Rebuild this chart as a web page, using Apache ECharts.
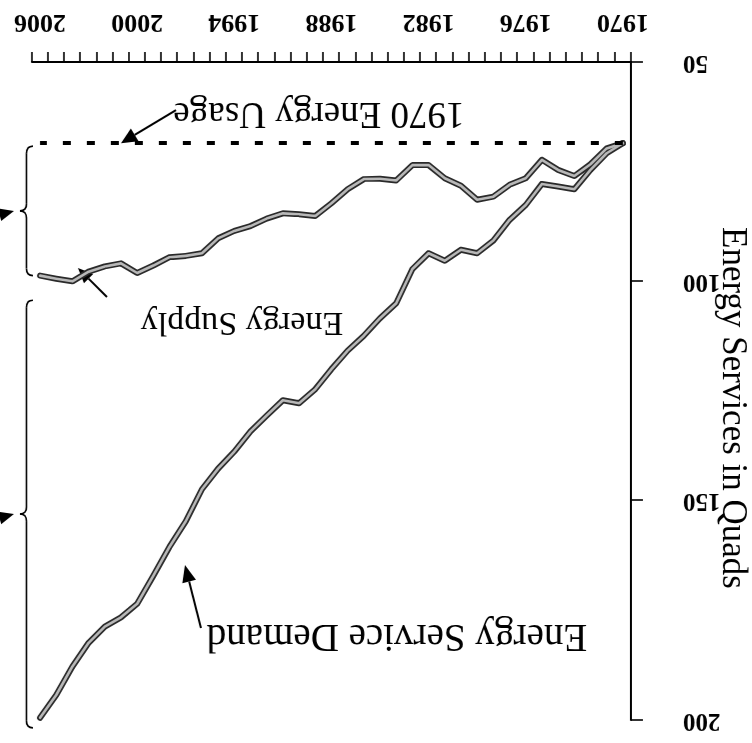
<!DOCTYPE html>
<html><head><meta charset="utf-8">
<script src="https://cdn.jsdelivr.net/npm/echarts@6/dist/echarts.min.js"></script>
<style>html,body{margin:0;padding:0;background:#fff;overflow:hidden}
#main{width:752px;height:743px;transform:rotate(180deg);}</style>
</head><body><div id="main"></div>
<script>
const years = ['1970','1971','1972','1973','1974','1975','1976','1977','1978','1979','1980','1981','1982','1983','1984','1985','1986','1987','1988','1989','1990','1991','1992','1993','1994','1995','1996','1997','1998','1999','2000','2001','2002','2003','2004','2005','2006'];
const supply = [68.5,69.7,73.3,76.0,74.6,72.3,76.5,78.0,80.7,81.4,78.2,76.5,73.5,73.5,77.0,76.6,76.7,79.0,82.2,85.1,84.7,84.5,85.7,87.4,88.5,90.2,93.6,94.2,94.5,96.4,98.1,95.9,96.6,97.8,100.0,99.4,98.7];
const demand = [68.5,70.8,74.6,79.0,78.4,77.8,82.6,86.0,90.7,93.6,92.8,95.3,93.6,97.2,105.0,108.4,112.4,115.8,120.0,124.6,127.8,127.1,130.6,134.2,138.8,142.7,147.4,154.7,160.5,167.1,173.5,176.6,178.7,182.4,187.8,194.3,199.5];
const usage1970 = 68.5;
const yMin = 50, yMax = 200, yStep = 50;
const yAxisTitle = 'Energy Services in Quads';
const labelUsage = '1970 Energy Usage';
const labelSupply = 'Energy Supply';
const labelDemand = 'Energy Service Demand';

const SERIF = '"Liberation Serif","Times New Roman",serif';
const chart = echarts.init(document.getElementById('main'), null, {renderer: 'canvas'});
const outline = {color: '#2a2a2a', width: 6, join: 'round', cap: 'round'};
const inner = {color: '#b8b8b8', width: 2.6, join: 'round', cap: 'round'};
chart.setOption({
  animation: false,
  backgroundColor: '#fff',
  grid: {left: 121, right: 32, top: 23, bottom: 62, containLabel: false, outerBoundsMode: 'none'},
  xAxis: {
    type: 'category', data: years, boundaryGap: true,
    axisLine: {lineStyle: {color: '#000', width: 2}},
    axisTick: {show: true, interval: 0, length: 10, lineStyle: {color: '#000', width: 1.6}},
    axisLabel: {interval: 5, margin: 27, fontFamily: SERIF, fontWeight: 'bold', fontSize: 26, color: '#000'},
    splitLine: {show: false}
  },
  yAxis: {
    type: 'value', min: yMin, max: yMax, interval: yStep,
    name: yAxisTitle, nameLocation: 'middle', nameGap: 84, nameMoveOverlap: false,
    nameTextStyle: {fontFamily: SERIF, fontSize: 35, color: '#000', padding: [0, 0, 0, 34]},
    axisLine: {show: true, lineStyle: {color: '#000', width: 2}},
    axisTick: {show: true, length: 12, lineStyle: {color: '#000', width: 1.6}},
    axisLabel: {margin: 52, fontFamily: SERIF, fontWeight: 'bold', fontSize: 25, color: '#000'},
    splitLine: {show: false}
  },
  series: [
    {type: 'line', data: supply, symbol: 'none', lineStyle: outline, z: 2,
      markLine: {silent: true, symbol: 'none', label: {show: false},
        lineStyle: {color: '#000', width: 4, type: [8, 16]},
        data: [[{coord: [years[0], usage1970]}, {coord: [years[years.length - 1], usage1970]}]]}},
    {type: 'line', data: demand, symbol: 'none', lineStyle: outline, z: 2},
    {type: 'line', data: supply, symbol: 'none', lineStyle: inner, z: 3},
    {type: 'line', data: demand, symbol: 'none', lineStyle: inner, z: 3}
  ]
});

function px(cat, val) { return chart.convertToPixel({gridIndex: 0}, [cat, val]); }
function arrow(x1, y1, x2, y2, hl, hw) {
  const a = Math.atan2(y2 - y1, x2 - x1);
  const bx = x2 - hl * Math.cos(a), by = y2 - hl * Math.sin(a);
  const nx = -Math.sin(a) * hw / 2, ny = Math.cos(a) * hw / 2;
  return [
    {type: 'line', shape: {x1: x1, y1: y1, x2: bx, y2: by}, style: {stroke: '#000', lineWidth: 2}},
    {type: 'polygon', shape: {points: [[x2, y2], [bx + nx, by + ny], [bx - nx, by - ny]]}, style: {fill: '#000'}}
  ];
}
function brace(xArm, xTip, yA, yB) {
  const t = Math.min(yA, yB), b = Math.max(yA, yB), m = (t + b) / 2, xm = (xArm + xTip) / 2, r = 7;
  const st = {stroke: '#000', lineWidth: 1.6, fill: null};
  return [
    {type: 'bezierCurve', shape: {x1: xArm, y1: t, cpx1: xm, cpy1: t, x2: xm, y2: t + r}, style: st},
    {type: 'line', shape: {x1: xm, y1: t + r, x2: xm, y2: m - r}, style: st},
    {type: 'bezierCurve', shape: {x1: xm, y1: m - r, cpx1: xm, cpy1: m, x2: xTip, y2: m}, style: st},
    {type: 'bezierCurve', shape: {x1: xTip, y1: m, cpx1: xm, cpy1: m, x2: xm, y2: m + r}, style: st},
    {type: 'line', shape: {x1: xm, y1: m + r, x2: xm, y2: b - r}, style: st},
    {type: 'bezierCurve', shape: {x1: xm, y1: b - r, cpx1: xm, cpy1: b, x2: xArm, y2: b}, style: st}
  ];
}
const last = years.length - 1;
const g = [];
const rect = chart.getModel().getComponent('grid').coordinateSystem.getRect();
const xArm = rect.x + rect.width - 1, xTip = xArm + 13;
// usage annotation
const tipU = px(years[31], usage1970);
g.push(...arrow(tipU[0] - 55, tipU[1] + 33, tipU[0], tipU[1], 16, 15));
g.push({type: 'text', style: {text: labelUsage, x: 433, y: 630, align: 'center', verticalAlign: 'middle', font: '37px ' + SERIF, fill: '#000'}});
// supply annotation
g.push(...arrow(645, 446, 674, 475, 15, 13));
g.push({type: 'text', style: {text: labelSupply, x: 510, y: 421, align: 'center', verticalAlign: 'middle', font: '34px ' + SERIF, fill: '#000'}});
// demand annotation
g.push(...arrow(551, 115, 567, 178, 17, 14));
g.push({type: 'text', style: {text: labelDemand, x: 355, y: 108, align: 'center', verticalAlign: 'middle', font: '39px ' + SERIF, fill: '#000'}});
// braces
const uTop = px(years[last], usage1970)[1] - 3, uBot = px(years[last], supply[last])[1];
g.push(...brace(xArm, xTip, uTop, uBot));
const lTop = px(years[last], supply[last] + 5.6)[1], lBot = px(years[last], demand[last] + 2.3)[1];
g.push(...brace(xArm, xTip, lTop, lBot));
const mU = (uTop + uBot) / 2, mL = (lTop + lBot) / 2;
g.push(...arrow(775, mU - 10, xTip + 6, mU, 15, 13));
g.push(...arrow(775, mL - 10, xTip + 6, mL, 15, 13));
chart.setOption({graphic: g});
</script>
</body></html>
